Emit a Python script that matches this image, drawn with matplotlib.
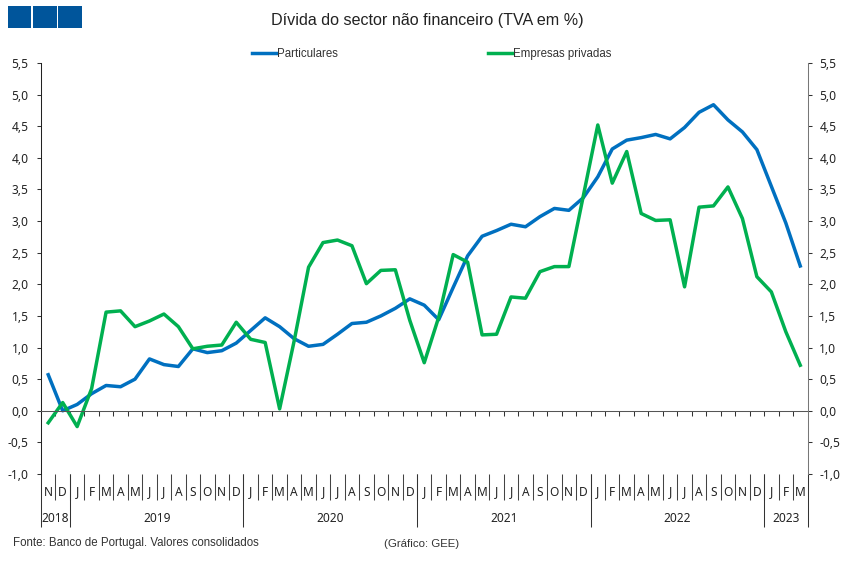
#script to redraw the debt growth chart (TVA em %)
import numpy as np
import matplotlib.pyplot as plt
from matplotlib.patches import Rectangle

months = ['N', 'D',
          'J', 'F', 'M', 'A', 'M', 'J', 'J', 'A', 'S', 'O', 'N', 'D',
          'J', 'F', 'M', 'A', 'M', 'J', 'J', 'A', 'S', 'O', 'N', 'D',
          'J', 'F', 'M', 'A', 'M', 'J', 'J', 'A', 'S', 'O', 'N', 'D',
          'J', 'F', 'M', 'A', 'M', 'J', 'J', 'A', 'S', 'O', 'N', 'D',
          'J', 'F', 'M']
years = ['2018', '2019', '2020', '2021', '2022', '2023']
months_per_year = [2, 12, 12, 12, 12, 3]
particulares = [0.57, 0.00, 0.10, 0.27, 0.40, 0.38, 0.50, 0.82, 0.73, 0.70, 0.98, 0.92, 0.95, 1.07,
                1.27, 1.47, 1.33, 1.14, 1.02, 1.05, 1.21, 1.38, 1.40, 1.50, 1.62, 1.77,
                1.67, 1.44, 1.95, 2.45, 2.76, 2.85, 2.95, 2.91, 3.07, 3.20, 3.17, 3.37,
                3.70, 4.14, 4.28, 4.32, 4.37, 4.30, 4.48, 4.72, 4.84, 4.60, 4.41, 4.13,
                3.55, 2.97, 2.29]
empresas = [-0.19, 0.13, -0.25, 0.35, 1.56, 1.58, 1.33, 1.42, 1.53, 1.33, 0.98, 1.02, 1.04, 1.40,
            1.13, 1.08, 0.03, 1.10, 2.27, 2.66, 2.70, 2.61, 2.01, 2.22, 2.23, 1.43,
            0.76, 1.48, 2.47, 2.35, 1.20, 1.21, 1.80, 1.78, 2.20, 2.28, 2.28, 3.40,
            4.52, 3.60, 4.10, 3.12, 3.01, 3.02, 1.96, 3.22, 3.24, 3.54, 3.04, 2.12,
            1.88, 1.25, 0.72]
y_ticks = [-1.0, -0.5, 0.0, 0.5, 1.0, 1.5, 2.0, 2.5, 3.0, 3.5, 4.0, 4.5, 5.0, 5.5]

W, H = 850, 561
plt.rcParams['font.family'] = ['Liberation Sans', 'DejaVu Sans']
plt.rcParams['axes.linewidth'] = 0.75
fig = plt.figure(figsize=(W / 100, H / 100), dpi=100)
left, right, top, bottom = 41, 807.5, 63, 474
ax = fig.add_axes([left / W, 1 - bottom / H, (right - left) / W, (bottom - top) / H])

x = np.arange(len(months))
ax.plot(x, particulares, color='#0070C0', lw=2.5, label='Particulares', solid_joinstyle='round', clip_on=False)
ax.plot(x, empresas, color='#00B050', lw=2.5, label='Empresas privadas', solid_joinstyle='round', clip_on=False)
ax.set_xlim(-0.5, len(months) - 0.5)
ax.set_ylim(-1, 5.5)

tick_labels = [f'{v:.1f}'.replace('.', ',') for v in y_ticks]
tick_font = dict(fontfamily='Noto Sans', fontsize=8.6, color='#222222')
ax.set_yticks(y_ticks, tick_labels, **tick_font)
ax.set_xticks(x[1:] - 0.5, [])
ax.tick_params(axis='x', length=3.6, width=0.75, color='#333333', direction='out')
ax.tick_params(axis='y', length=3, width=0.75, color='#333333', pad=6)
ax.spines['top'].set_visible(False)
ax.spines['right'].set_visible(False)
ax.spines['bottom'].set_position(('data', 0))
ax.spines['bottom'].set_color('#555555')
ax.spines['left'].set_color('#222222')

ax2 = ax.twinx()
ax2.set_ylim(-1, 5.5)
ax2.set_yticks(y_ticks, tick_labels, **tick_font)
ax2.tick_params(axis='y', length=3, width=0.75, color='#333333', pad=5.5)
for s in ['top', 'left', 'bottom']:
    ax2.spines[s].set_visible(False)
ax2.spines['right'].set_color('#777777')

# category rows under the plot, y given in axes fraction
trans = ax.get_xaxis_transform()
px = (bottom - top)
month_bottom = -26 / px
year_bottom = -53 / px
ax.vlines(x[1:] - 0.5, month_bottom, 0, transform=trans, color='#444444', lw=0.75, clip_on=False)
edges = np.concatenate([[0], np.cumsum(months_per_year)]) - 0.5
ax.vlines(edges, year_bottom, 0, transform=trans, color='#333333', lw=0.75, clip_on=False)
for i, m in enumerate(months):
    ax.text(i, -18 / px, m, transform=trans, ha='center', va='center', **tick_font)
for j, yr in enumerate(years):
    ax.text((edges[j] + edges[j + 1]) / 2, -44 / px, yr, transform=trans, ha='center', va='center', **tick_font)

ax.legend(loc='center', bbox_to_anchor=(431.5 / W, 1 - 54 / H), bbox_transform=fig.transFigure, ncol=2,
          frameon=False, fontsize=8.3, handlelength=2.15, handletextpad=0.05,
          columnspacing=13, borderpad=0, labelcolor='#333333')

fig.text(427.5 / W, 1 - 20 / H, 'Dívida do sector não financeiro (TVA em %)', ha='center', va='center',
         fontsize=11.6, color='#222222')
fig.text(13 / W, 1 - 543 / H, 'Fonte: Banco de Portugal. Valores consolidados', ha='left', va='center',
         fontsize=8.3, color='#333333')
fig.text(384 / W, 1 - 544 / H, '(Gráfico: GEE)', ha='left', va='center', fontsize=8.2, color='#333333')

for x0 in [7.5, 33, 58.5]:
    fig.add_artist(Rectangle((x0 / W, 1 - 27.5 / H), 23.5 / W, 21.5 / H, transform=fig.transFigure,
                             facecolor='#00559B', edgecolor='none'))

fig.savefig('out.png', dpi=100)
